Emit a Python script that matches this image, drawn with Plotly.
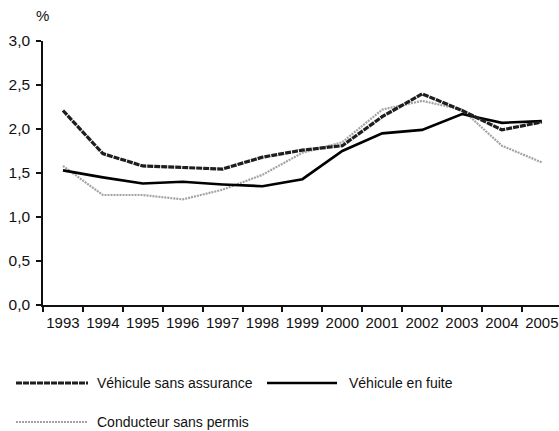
import plotly.graph_objects as go

years = ["1993", "1994", "1995", "1996", "1997", "1998", "1999",
         "2000", "2001", "2002", "2003", "2004", "2005"]
sans_assurance = [2.21, 1.72, 1.58, 1.56, 1.545, 1.68, 1.76, 1.81, 2.14, 2.40, 2.21, 1.99, 2.08]
en_fuite = [1.53, 1.45, 1.38, 1.40, 1.37, 1.35, 1.43, 1.75, 1.95, 1.99, 2.17, 2.07, 2.09]
sans_permis = [1.58, 1.25, 1.25, 1.20, 1.31, 1.48, 1.73, 1.85, 2.22, 2.32, 2.22, 1.81, 1.62]
y_ticks = [0, 0.5, 1.0, 1.5, 2.0, 2.5, 3.0]

W, H = 559, 431
L, R, T, B = 43, 0, 41, 126
FONT = "Liberation Sans, Arial, sans-serif"

styles = {
    "sans_assurance": dict(color="#1e1e1e", width=3.2, dash="6px,1px"),
    "en_fuite": dict(color="#000000", width=2.6),
    "sans_permis": dict(color="#a3a3a3", width=2.2, dash="2px,1px"),
}

fig = go.Figure()
fig.add_trace(go.Scatter(x=years, y=sans_permis, mode="lines", name="Conducteur sans permis",
                         line=styles["sans_permis"], showlegend=False))
fig.add_trace(go.Scatter(x=years, y=en_fuite, mode="lines", name="Véhicule en fuite",
                         line=styles["en_fuite"], showlegend=False))
fig.add_trace(go.Scatter(x=years, y=sans_assurance, mode="lines", name="Véhicule sans assurance",
                         line=styles["sans_assurance"], showlegend=False))

def px_x(px):
    return (px - L) / (W - L - R)

def px_y(py):
    return (H - B - py) / (H - B - T)

legend_items = [
    ("Véhicule sans assurance", "sans_assurance", 16, 88, 95, 383),
    ("Véhicule en fuite", "en_fuite", 267, 337, 347, 383),
    ("Conducteur sans permis", "sans_permis", 16, 88, 95, 422),
]
shapes = []
annotations = []
for label, key, x0, x1, tx, yy in legend_items:
    st = styles[key]
    shapes.append(dict(type="line", xref="paper", yref="paper",
                       x0=px_x(x0), x1=px_x(x1), y0=px_y(yy), y1=px_y(yy),
                       line=dict(color=st["color"], width=st["width"], dash=st.get("dash", "solid"))))
    annotations.append(dict(text=label, xref="paper", yref="paper", x=px_x(tx), y=px_y(yy),
                            xanchor="left", yanchor="middle", showarrow=False,
                            font=dict(family=FONT, size=14, color="#111")))
annotations.append(dict(text="%", xref="paper", yref="paper", x=px_x(42), y=px_y(15),
                        xanchor="center", yanchor="middle", showarrow=False,
                        font=dict(family=FONT, size=15, color="#111")))

fig.update_layout(
    width=W, height=H,
    margin=dict(l=L, r=R, t=T, b=B, autoexpand=False),
    paper_bgcolor="white", plot_bgcolor="white",
    separators=", ",
    font=dict(family=FONT, size=15, color="#111"),
    shapes=shapes, annotations=annotations,
    showlegend=False,
)
fig.update_xaxes(type="category", range=[-0.5, 12.43], showgrid=False, automargin=False,
                 showline=True, linecolor="#111", linewidth=2, tickangle=0,
                 ticks="outside", tickson="boundaries", ticklen=5, tickwidth=1.5, tickcolor="#111",
                 ticklabelstandoff=3,
                 tickfont=dict(family=FONT, size=15), fixedrange=True)
fig.update_yaxes(range=[0, 3.0], tickvals=y_ticks, tickformat=".1f", showgrid=False, zeroline=False,
                 showline=True, linecolor="#111", linewidth=1.5, automargin=False,
                 ticks="outside", ticklen=5, tickwidth=1.5, tickcolor="#111",
                 ticklabelstandoff=3,
                 tickfont=dict(family=FONT, size=15.5), fixedrange=True)

fig.write_html("out.html", config={"displayModeBar": False},
               post_script="document.body.style.margin='0';document.body.style.overflow='hidden';")
